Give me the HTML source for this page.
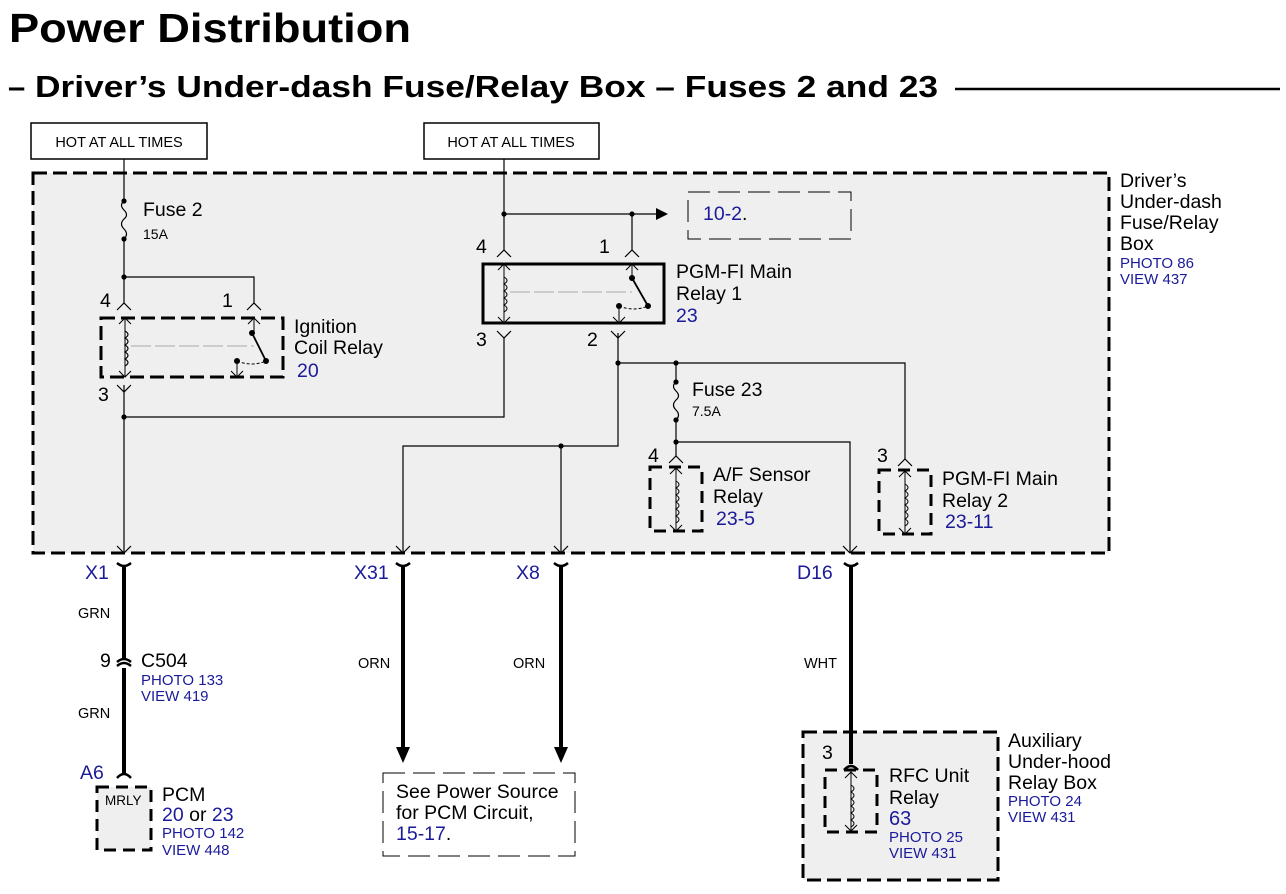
<!DOCTYPE html>
<html><head><meta charset="utf-8"><style>
html,body{margin:0;padding:0;background:#fff;}
svg{display:block;font-family:"Liberation Sans",Arial,sans-serif;}
.b{fill:#1a1a9a;}
</style></head><body>
<svg width="1286" height="894" viewBox="0 0 1286 894" xmlns="http://www.w3.org/2000/svg">
<text x="9" y="42" font-size="41" font-weight="bold" textLength="402" lengthAdjust="spacingAndGlyphs">Power Distribution</text>
<text x="8" y="97" font-size="31" font-weight="bold">–</text>
<text x="35" y="97" font-size="31" font-weight="bold" textLength="903" lengthAdjust="spacingAndGlyphs">Driver’s Under-dash Fuse/Relay Box – Fuses 2 and 23</text>
<line x1="955" y1="89" x2="1280" y2="89" stroke="#000" stroke-width="2.5"/>

<rect x="31" y="123" width="176" height="36" fill="#fff" stroke="#000" stroke-width="1.5"/>
<text x="119" y="147" font-size="14.5" text-anchor="middle">HOT AT ALL TIMES</text>
<rect x="424" y="123" width="175" height="36" fill="#fff" stroke="#000" stroke-width="1.5"/>
<text x="511" y="147" font-size="14.5" text-anchor="middle">HOT AT ALL TIMES</text>

<rect x="33" y="173" width="1076" height="380" fill="#efefef" stroke="#000" stroke-width="3" stroke-dasharray="14,6"/>

<g stroke="#000" stroke-width="1.2" fill="none">
<line x1="124" y1="159" x2="124" y2="201"/>
<path d="M124 201 q-5 4 0 9 q5 5 0 9 q-5 5 0 10 q5 5 0 10"/>
<line x1="124" y1="239" x2="124" y2="303"/>
<polyline points="124,277 254,277 254,303"/>
<polyline points="117,310 124,303 131,310"/>
<polyline points="247,310 254,303 261,310"/>
<line x1="124" y1="385" x2="124" y2="553"/>
<polyline points="117,385 124,392 131,385"/>
<polyline points="124,417 504,417 504,338"/>
<line x1="504" y1="159" x2="504" y2="250"/>
<polyline points="497,257 504,250 511,257"/>
<line x1="504" y1="214" x2="656" y2="214"/>
<polyline points="632,214 632,250"/>
<polyline points="625,257 632,250 639,257"/>
<polyline points="497,331 504,338 511,331"/>
<polyline points="611,331 618,338 625,331"/>
<polyline points="618,333 618,446 403,446 403,553"/>
<line x1="561" y1="446" x2="561" y2="553"/>
<polyline points="618,363 905,363 905,459"/>
<polyline points="898,466 905,459 912,466"/>
<line x1="676" y1="363" x2="676" y2="382"/>
<path d="M676 382 q-5 4 0 9 q5 5 0 9 q-5 5 0 10 q5 5 0 10"/>
<line x1="676" y1="420" x2="676" y2="456"/>
<polyline points="669,463 676,456 683,463"/>
<polyline points="676,442 850,442 850,553"/>
<polyline points="117,546 124,553 131,546"/>
<polyline points="396,546 403,553 410,546"/>
<polyline points="554,546 561,553 568,546"/>
<polyline points="843,546 850,553 857,546"/>
</g>
<polygon points="656,208 668,214 656,220" fill="#000"/>
<rect x="688" y="192" width="163" height="47" fill="none" stroke="#000" stroke-width="1" stroke-dasharray="22,8"/>
<text x="703" y="220" font-size="19.5" class="b">10-2<tspan fill="#000">.</tspan></text>

<g fill="#000">
<circle cx="124" cy="201" r="2.6"/><circle cx="124" cy="239" r="2.6"/><circle cx="124" cy="277" r="2.6"/>
<circle cx="124" cy="417" r="2.6"/><circle cx="504" cy="214" r="2.6"/><circle cx="632" cy="214" r="2.6"/>
<circle cx="618" cy="363" r="2.6"/><circle cx="676" cy="363" r="2.6"/><circle cx="676" cy="382" r="2.6"/>
<circle cx="676" cy="420" r="2.6"/><circle cx="676" cy="442" r="2.6"/><circle cx="561" cy="446" r="2.6"/>
</g>

<rect x="101" y="318" width="182" height="59" fill="none" stroke="#000" stroke-width="3" stroke-dasharray="14,6"/>
<g stroke="#000" stroke-width="1" fill="none">
<line x1="125" y1="318" x2="125" y2="377"/>
<polyline points="119,324 125,318 131,324"/><polyline points="119,371 125,377 131,371"/>
<path d="M125 331 q6 3.5 0 7 q6 3.5 0 7 q6 3.5 0 7 q6 3.5 0 7 q6 3.5 0 7" stroke-width="1.2"/>
<line x1="131" y1="346" x2="254" y2="346" stroke="#aaa" stroke-dasharray="20,4"/>
<line x1="254" y1="318" x2="254" y2="333"/><polyline points="248,324 254,318 260,324"/>
<line x1="252" y1="333" x2="266" y2="361" stroke-width="1.8"/>
<path d="M237 361 q15 6 29 0" stroke-dasharray="3,2"/>
<line x1="237" y1="361" x2="237" y2="377"/><polyline points="231,371 237,377 243,371"/>
</g>
<circle cx="252" cy="333" r="3" /><circle cx="266" cy="361" r="3"/><circle cx="237" cy="361" r="3"/>

<rect x="483" y="264" width="181" height="59" fill="none" stroke="#000" stroke-width="3"/>
<g stroke="#000" stroke-width="1" fill="none">
<line x1="504" y1="264" x2="504" y2="323"/>
<polyline points="498,270 504,264 510,270"/><polyline points="498,317 504,323 510,317"/>
<path d="M504 277 q6 3.5 0 7 q6 3.5 0 7 q6 3.5 0 7 q6 3.5 0 7 q6 3.5 0 7"/>
<line x1="510" y1="292" x2="632" y2="292" stroke="#aaa" stroke-dasharray="20,4"/>
<line x1="632" y1="264" x2="632" y2="278"/><polyline points="626,270 632,264 638,270"/>
<line x1="632" y1="278" x2="648" y2="306" stroke-width="1.8"/>
<path d="M619 306 q15 6 29 0" stroke-dasharray="3,2"/>
<line x1="619" y1="306" x2="619" y2="323"/><polyline points="613,317 619,323 625,317"/>
</g>
<circle cx="632" cy="278" r="3"/><circle cx="648" cy="306" r="3"/><circle cx="619" cy="306" r="3"/>

<rect x="650" y="467" width="52" height="64" fill="none" stroke="#000" stroke-width="3" stroke-dasharray="12,7"/>
<rect x="879" y="470" width="52" height="64" fill="none" stroke="#000" stroke-width="3" stroke-dasharray="12,7"/>
<g stroke="#000" stroke-width="1" fill="none">
<line x1="676" y1="468" x2="676" y2="531"/><polyline points="670,474 676,468 682,474"/><polyline points="670,525 676,531 682,525"/>
<path d="M676 481 q6 3.5 0 7 q6 3.5 0 7 q6 3.5 0 7 q6 3.5 0 7 q6 3.5 0 7 q6 3.5 0 7"/>
<line x1="905" y1="471" x2="905" y2="534"/><polyline points="899,477 905,471 911,477"/><polyline points="899,528 905,534 911,528"/>
<path d="M905 484 q6 3.5 0 7 q6 3.5 0 7 q6 3.5 0 7 q6 3.5 0 7 q6 3.5 0 7 q6 3.5 0 7"/>
</g>

<g font-size="19.5">
<text x="143" y="216">Fuse 2</text>
<text x="143" y="239" font-size="14">15A</text>
<text x="100" y="307">4</text><text x="222" y="307">1</text><text x="98" y="401">3</text>
<text x="294" y="333">Ignition</text><text x="294" y="354">Coil Relay</text>
<text x="297" y="377" class="b">20</text>
<text x="476" y="253">4</text><text x="599" y="253">1</text><text x="476" y="346">3</text><text x="587" y="346">2</text>
<text x="676" y="278">PGM-FI Main</text><text x="676" y="300">Relay 1</text>
<text x="676" y="322" class="b">23</text>
<text x="692" y="396">Fuse 23</text>
<text x="692" y="416" font-size="14">7.5A</text>
<text x="648" y="462">4</text>
<text x="713" y="481">A/F Sensor</text><text x="713" y="503">Relay</text>
<text x="716" y="525" class="b">23-5</text>
<text x="877" y="462">3</text>
<text x="942" y="485">PGM-FI Main</text><text x="942" y="507">Relay 2</text>
<text x="945" y="528" class="b">23-11</text>
<text x="1120" y="187">Driver’s</text><text x="1120" y="208">Under-dash</text>
<text x="1120" y="229">Fuse/Relay</text><text x="1120" y="250">Box</text>
<text x="1120" y="268" font-size="15" class="b">PHOTO 86</text>
<text x="1120" y="284" font-size="15" class="b">VIEW 437</text>
</g>

<g stroke="#000" stroke-width="4" fill="none">
<line x1="124" y1="565" x2="124" y2="658"/>
<line x1="124" y1="668" x2="124" y2="775"/>
<line x1="403" y1="565" x2="403" y2="748"/>
<line x1="561" y1="565" x2="561" y2="748"/>
<line x1="851" y1="565" x2="851" y2="758"/>
<g stroke-width="2.5">
<path d="M117 563 q7 6 14 0"/><path d="M396 563 q7 6 14 0"/><path d="M554 563 q7 6 14 0"/><path d="M844 563 q7 6 14 0"/>
<path d="M117 662 q7 -6 14 0"/><path d="M117 666 q7 -6 14 0"/>
<path d="M117 778 q7 -8 14 0"/>
</g>
</g>
<polygon points="396,747 410,747 403,763" fill="#000"/>
<polygon points="554,747 568,747 561,763" fill="#000"/>

<g font-size="19.5">
<text x="85" y="579" class="b">X1</text>
<text x="354" y="579" class="b">X31</text>
<text x="516" y="579" class="b">X8</text>
<text x="797" y="579" class="b">D16</text>
<text x="78" y="618" font-size="14.5">GRN</text>
<text x="100" y="667">9</text><text x="141" y="667">C504</text>
<text x="141" y="685" font-size="15" class="b">PHOTO 133</text>
<text x="141" y="701" font-size="15" class="b">VIEW 419</text>
<text x="78" y="718" font-size="14.5">GRN</text>
<text x="80" y="779" class="b">A6</text>
<text x="358" y="668" font-size="14.5">ORN</text>
<text x="513" y="668" font-size="14.5">ORN</text>
<text x="804" y="668" font-size="14.5">WHT</text>
<text x="162" y="801">PCM</text>
<text x="162" y="821" class="b">20 <tspan fill="#000">or</tspan> 23</text>
<text x="162" y="838" font-size="15" class="b">PHOTO 142</text>
<text x="162" y="855" font-size="15" class="b">VIEW 448</text>
</g>

<rect x="97" y="787" width="54" height="63" fill="#efefef" stroke="#000" stroke-width="3" stroke-dasharray="12,7"/>
<text x="105" y="805" font-size="13.5">MRLY</text>

<rect x="383" y="773" width="192" height="83" fill="#fff" stroke="#000" stroke-width="1" stroke-dasharray="22,8"/>
<text x="396" y="798" font-size="19.5">See Power Source</text>
<text x="396" y="819" font-size="19.5">for PCM Circuit,</text>
<text x="396" y="840" font-size="19.5" class="b">15-17<tspan fill="#000">.</tspan></text>

<rect x="803" y="732" width="195" height="148" fill="#efefef" stroke="#000" stroke-width="3" stroke-dasharray="14,6"/>
<line x1="851" y1="728" x2="851" y2="764" stroke="#000" stroke-width="4"/>
<path d="M844 770 q7 -8 14 0" stroke="#000" stroke-width="2.5" fill="none"/>
<rect x="825" y="770" width="52" height="62" fill="none" stroke="#000" stroke-width="3" stroke-dasharray="12,7"/>
<g stroke="#000" stroke-width="1" fill="none">
<line x1="851" y1="772" x2="851" y2="831"/><polyline points="845,778 851,772 857,778"/><polyline points="845,825 851,831 857,825"/>
<path d="M851 785 q6 3.5 0 7 q6 3.5 0 7 q6 3.5 0 7 q6 3.5 0 7 q6 3.5 0 7 q6 3.5 0 7"/>
</g>
<g font-size="19.5">
<text x="822" y="759">3</text>
<text x="889" y="782">RFC Unit</text><text x="889" y="804">Relay</text>
<text x="889" y="825" class="b" font-size="20">63</text>
<text x="889" y="842" font-size="15" class="b">PHOTO 25</text>
<text x="889" y="858" font-size="15" class="b">VIEW 431</text>
<text x="1008" y="747">Auxiliary</text><text x="1008" y="768">Under-hood</text><text x="1008" y="789">Relay Box</text>
<text x="1008" y="806" font-size="15" class="b">PHOTO 24</text>
<text x="1008" y="822" font-size="15" class="b">VIEW 431</text>
</g>
</svg>
</body></html>
